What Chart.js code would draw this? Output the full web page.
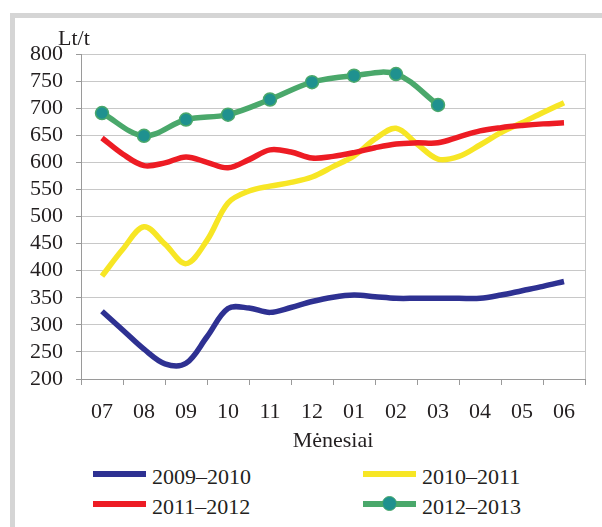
<!DOCTYPE html>
<html>
<head>
<meta charset="utf-8">
<script src="https://cdn.jsdelivr.net/npm/chart.js@4"></script>
<style>
  html, body { margin: 0; padding: 0; background: #fff; overflow: hidden; }
  body { width: 602px; height: 527px; position: relative; }
  #frame {
    position: absolute; left: 10px; top: 13px; width: 620px; height: 540px;
    border-left: 5px solid #d5d5d5; border-top: 5px solid #d5d5d5;
  }
  #wrap { position: absolute; left: 0; top: 0; width: 602px; height: 454px; }
  #legend {
    position: absolute; left: 93px; top: 459px;
    display: grid; grid-template-columns: 270px 200px; grid-auto-rows: 30px;
    font: 22px "Liberation Serif", serif; color: #231f20;
  }
  .item { display: flex; align-items: center; }
  .sample { position: relative; width: 53px; height: 6px; margin-right: 6px; }
  .dot {
    position: absolute; left: 19px; top: -5px; width: 13px; height: 13px;
    border-radius: 50%; border: 1.5px solid #4aa86b; background: #1f918f;
  }
  .item span.txt { position: relative; top: 3px; }
</style>
</head>
<body>
<div id="frame"></div>
<div id="wrap"><canvas id="chart"></canvas></div>
<div id="legend"></div>
<script>
// Months on the x axis (July to June)
const months = ['07', '08', '09', '10', '11', '12', '01', '02', '03', '04', '05', '06'];

// Half-month positions used by the three full seasons
const halfMonthX = [0, 0.5, 1, 1.5, 2, 2.5, 3, 3.5, 4, 4.5, 5, 5.5, 6, 6.5, 7, 7.5, 8, 8.5, 9, 9.5, 10, 10.5, 11];
// Monthly positions of the last (incomplete) season
const monthX = [0, 1, 2, 3, 4, 5, 6, 7, 8];

// Prices, Lt/t
const season0910 = [325, 290, 255, 228, 229, 278, 330, 331, 323, 332, 343, 351, 355, 352, 349, 349, 349, 349, 349, 355, 363, 371, 380];
const season1011 = [390, 440, 481, 449, 413, 456, 525, 547, 556, 563, 573, 592, 612, 643, 663, 634, 606, 611, 632, 655, 673, 692, 710];
const season1112 = [645, 615, 594, 599, 610, 600, 590, 605, 623, 619, 608, 611, 618, 627, 634, 636, 636, 647, 658, 664, 668, 671, 673];
const season1213 = [691, 649, 679, 688, 716, 748, 760, 763, 706];

const seriesNames = ['2009–2010', '2010–2011', '2011–2012', '2012–2013'];
const seriesColors = ['#2e3192', '#f7e625', '#ed1c24', '#4aa86b'];

// y axis range
const yMin = 200;
const yMax = 800;
const yStep = 50;

const textColor = '#231f20';
const font = { family: '"Liberation Serif", serif', size: 22 };

function toPoints(xs, ys) {
    return ys.map((y, i) => ({ x: xs[i], y: y }));
}

// Tick marks sit between months, labels on the months
const xTicks = months.flatMap((m, i) => [i - 0.5, i]).concat([months.length - 0.5]);

// Right edge of the plot area and the unit label
const plotExtras = {
    id: 'plotExtras',
    beforeDatasetsDraw(chart) {
        const { ctx, chartArea: a } = chart;
        ctx.save();
        ctx.strokeStyle = '#c4c4c4';
        ctx.lineWidth = 1;
        ctx.beginPath();
        ctx.moveTo(a.right + 0.5, a.top);
        ctx.lineTo(a.right + 0.5, a.bottom);
        ctx.stroke();
        ctx.fillStyle = textColor;
        ctx.font = '22px "Liberation Serif", serif';
        ctx.textBaseline = 'alphabetic';
        ctx.fillText('Lt/t', a.left - 23, a.top - 9);
        ctx.restore();
    }
};

const lineStyle = { borderWidth: 5.5, pointRadius: 0, pointHoverRadius: 0, tension: 0.35, fill: false };

const ctx = document.getElementById('chart').getContext('2d');
new Chart(ctx, {
    type: 'line',
    data: {
        datasets: [
            { ...lineStyle, label: seriesNames[0], data: toPoints(halfMonthX, season0910), borderColor: seriesColors[0], order: 3 },
            { ...lineStyle, label: seriesNames[1], data: toPoints(halfMonthX, season1011), borderColor: seriesColors[1], order: 2 },
            { ...lineStyle, label: seriesNames[2], data: toPoints(halfMonthX, season1112), borderColor: seriesColors[2], order: 1 },
            {
                ...lineStyle, label: seriesNames[3], data: toPoints(monthX, season1213), borderColor: seriesColors[3], order: 0,
                pointRadius: 6.5, pointBorderWidth: 1.5, pointBackgroundColor: '#1f918f', pointBorderColor: seriesColors[3]
            }
        ]
    },
    options: {
        responsive: true,
        maintainAspectRatio: false,
        animation: false,
        layout: { padding: { top: 54, right: 17, left: 0, bottom: 0 } },
        plugins: { legend: { display: false }, tooltip: { enabled: false } },
        scales: {
            x: {
                type: 'linear',
                min: -0.5,
                max: months.length - 0.5,
                afterBuildTicks: (scale) => { scale.ticks = xTicks.map(v => ({ value: v })); },
                afterFit: (scale) => { scale.height = 75; },
                ticks: {
                    autoSkip: false, maxRotation: 0, padding: 14, font: font, color: textColor,
                    callback: (v) => Number.isInteger(v) ? months[v] : ''
                },
                grid: {
                    drawOnChartArea: false, tickLength: 6,
                    tickColor: (c) => (c.tick && Number.isInteger(c.tick.value)) ? 'rgba(0,0,0,0)' : '#9a9a9a'
                },
                border: { color: '#9a9a9a' },
                title: { display: true, text: 'Mėnesiai', font: font, color: textColor, padding: 0 }
            },
            y: {
                min: yMin,
                max: yMax,
                afterFit: (scale) => { scale.width = 81; },
                ticks: { stepSize: yStep, autoSkip: false, padding: 13, font: font, color: textColor },
                grid: { color: '#c8c8c8', tickLength: 5, tickColor: '#9a9a9a' },
                border: { color: '#9a9a9a' }
            }
        }
    },
    plugins: [plotExtras]
});

// Legend in two columns, built from the series names and colours
const legend = document.getElementById('legend');
seriesNames.forEach((name, i) => {
    const item = document.createElement('div');
    item.className = 'item';
    const sample = document.createElement('span');
    sample.className = 'sample';
    sample.style.background = seriesColors[i];
    if (i === 3) {
        const dot = document.createElement('span');
        dot.className = 'dot';
        sample.appendChild(dot);
    }
    const txt = document.createElement('span');
    txt.className = 'txt';
    txt.textContent = name;
    item.appendChild(sample);
    item.appendChild(txt);
    legend.appendChild(item);
});
</script>
</body>
</html>
